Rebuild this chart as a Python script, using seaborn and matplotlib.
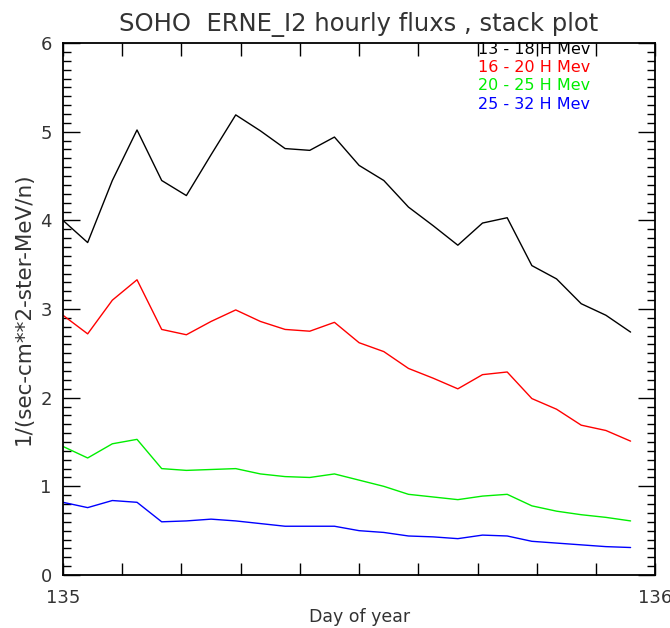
import numpy as np
import pandas as pd
import matplotlib
matplotlib.use("Agg")
import matplotlib.pyplot as plt
import seaborn as sns
from matplotlib.ticker import MultipleLocator, FixedLocator

# hourly samples of day 135 (fractional day of year)
hours = list(range(24))

flux_13_18 = [4.00, 3.75, 4.45, 5.02, 4.45, 4.28, 4.74, 5.19, 5.01, 4.81, 4.79, 4.94,
              4.62, 4.45, 4.15, 3.94, 3.72, 3.97, 4.03, 3.49, 3.34, 3.06, 2.93, 2.74]
flux_16_20 = [2.93, 2.72, 3.10, 3.33, 2.77, 2.71, 2.86, 2.99, 2.86, 2.77, 2.75, 2.85,
              2.62, 2.52, 2.33, 2.22, 2.10, 2.26, 2.29, 1.99, 1.87, 1.69, 1.63, 1.51]
flux_20_25 = [1.45, 1.32, 1.48, 1.53, 1.20, 1.18, 1.19, 1.20, 1.14, 1.11, 1.10, 1.14,
              1.07, 1.00, 0.91, 0.88, 0.85, 0.89, 0.91, 0.78, 0.72, 0.68, 0.65, 0.61]
flux_25_32 = [0.82, 0.76, 0.84, 0.82, 0.60, 0.61, 0.63, 0.61, 0.58, 0.55, 0.55, 0.55,
              0.50, 0.48, 0.44, 0.43, 0.41, 0.45, 0.44, 0.38, 0.36, 0.34, 0.32, 0.31]

channels = ["13 - 18 H Mev", "16 - 20 H Mev", "20 - 25 H Mev", "25 - 32 H Mev"]
colors = ["black", "#ff0000", "#00ee00", "#0000ff"]

day = [135 + h / 24 for h in hours]
df = pd.concat([
    pd.DataFrame({"day": day, "flux": f, "channel": c})
    for f, c in zip([flux_13_18, flux_16_20, flux_20_25, flux_25_32], channels)
])

sns.set_style("ticks")
plt.rcParams['font.family'] = ['DejaVu Sans']
txt = "#333333"

fig = plt.figure(figsize=(6.70, 6.28), dpi=100)
ax = fig.add_axes([0.094, 0.0844, 0.884, 0.847])

sns.lineplot(data=df, x="day", y="flux", hue="channel", palette=colors,
             linewidth=1.0, legend=False, ax=ax)

ax.set_xlim(135, 136)
ax.set_ylim(0, 6)
ax.xaxis.set_major_locator(FixedLocator([135, 136]))
ax.xaxis.set_minor_locator(MultipleLocator(0.1))
ax.yaxis.set_major_locator(MultipleLocator(1))
ax.yaxis.set_minor_locator(MultipleLocator(0.1))
ax.set_xticklabels(["135", "136"])

ax.tick_params(axis="both", which="both", direction="in", top=True, right=True,
               color="black", width=1.0, labelsize=13, labelcolor=txt)
ax.tick_params(axis="x", which="major", length=9, pad=10)
ax.tick_params(axis="x", which="minor", length=9)
ax.tick_params(axis="y", which="major", length=12, pad=8)
ax.tick_params(axis="y", which="minor", length=6)
for s in ax.spines.values():
    s.set_linewidth(1.3)
    s.set_color("black")

ax.set_title("SOHO  ERNE_I2 hourly fluxs , stack plot", fontsize=17.5,
             color=txt, pad=9)
ax.set_xlabel("Day of year", fontsize=12.5, color=txt, labelpad=1)
ax.set_ylabel("1/(sec-cm**2-ster-MeV/n)", fontsize=15.5, color=txt, labelpad=5)

# text legend in the upper right corner
ypos = [0.988, 0.955, 0.921, 0.885]
for c, col, yp in zip(channels, colors, ypos):
    ax.text(0.70, yp, c, transform=ax.transAxes, color=col, fontsize=11.5,
            ha="left", va="center")

fig.savefig("out.png", dpi=100)
